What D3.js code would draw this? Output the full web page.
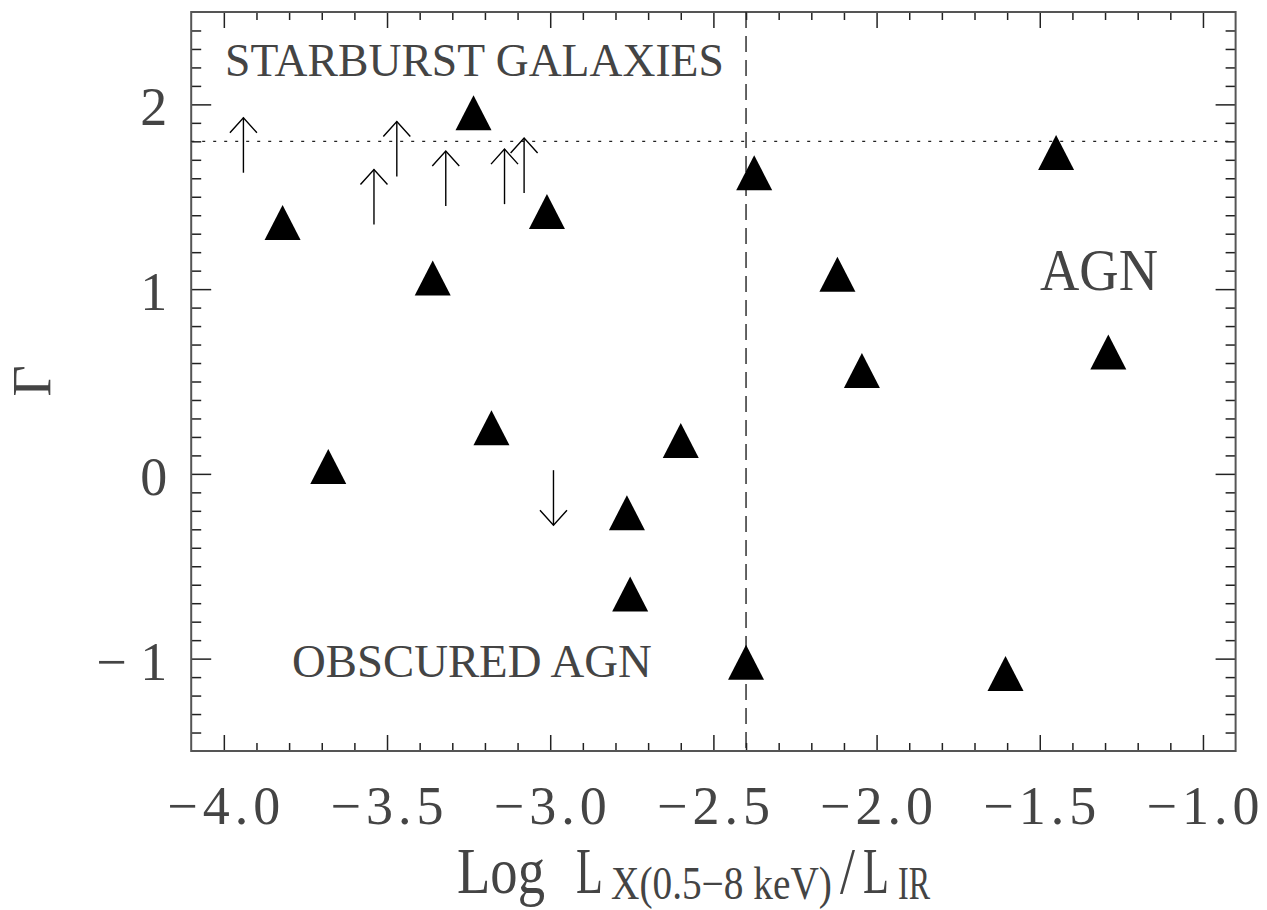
<!DOCTYPE html>
<html>
<head>
<meta charset="utf-8">
<script src="https://cdn.jsdelivr.net/npm/d3@7"></script>
<style>
  html, body { margin: 0; padding: 0; background: #fff; }
  svg { display: block; }
  .lbl { font-family: "Liberation Serif", "DejaVu Serif", serif; fill: #444; }
</style>
</head>
<body>
<svg id="chart" width="1267" height="910"></svg>
<script>
// ---- data ----
const detX = [-3.82, -3.68, -3.36, -3.235, -3.18, -3.01, -2.765, -2.755, -2.60, -2.40, -2.375, -2.12, -2.045, -1.605, -1.45, -1.29];
const detY = [1.36, 0.04, 1.06, 1.955, 0.25, 1.42, -0.21, -0.65, 0.18, -1.02, 1.63, 1.08, 0.56, -1.08, 1.74, 0.66];
const lowLimX = [-3.94, -3.54, -3.47, -3.32, -3.14, -3.08];
const lowLimY = [1.63, 1.35, 1.61, 1.45, 1.46, 1.52];
const upLimX = [-2.99];
const upLimY = [0.02];
const xMajorTicks = [-4.0, -3.5, -3.0, -2.5, -2.0, -1.5, -1.0];
const yMajorTicks = [-1, 0, 1, 2];
const gammaRef = 1.8;      // horizontal dotted line
const xDivide = -2.4;      // vertical dashed line

const svg = d3.select("#chart");
const L = 191.2, R = 1235.6, T = 12, B = 751;
const x = d3.scaleLinear().domain([-4.1, -0.9]).range([L, R]);
const y = d3.scaleLinear().domain([-1.5, 2.5]).range([B, T]);

const xMinor = d3.range(-40, -9).map(d => d / 10).filter(v => !xMajorTicks.some(m => Math.abs(m - v) < 1e-6));
const yMinor = d3.range(-14, 25).map(d => d / 10).filter(v => !yMajorTicks.some(m => Math.abs(m - v) < 1e-6));

function styleAxis(g) {
  g.select(".domain").remove();
  g.selectAll(".tick line").attr("stroke", "#222").attr("stroke-width", 1.5);
  g.selectAll(".tick text").remove();
}

// bottom & top axes
svg.append("g").attr("transform", `translate(0,${B})`)
  .call(d3.axisBottom(x).tickValues(xMajorTicks).tickSize(-16).tickFormat("")).call(styleAxis);
svg.append("g").attr("transform", `translate(0,${B})`)
  .call(d3.axisBottom(x).tickValues(xMinor).tickSize(-8).tickFormat("")).call(styleAxis);
svg.append("g").attr("transform", `translate(0,${T})`)
  .call(d3.axisTop(x).tickValues(xMajorTicks).tickSize(-16).tickFormat("")).call(styleAxis);
svg.append("g").attr("transform", `translate(0,${T})`)
  .call(d3.axisTop(x).tickValues(xMinor).tickSize(-8).tickFormat("")).call(styleAxis);
// left & right axes
svg.append("g").attr("transform", `translate(${L},0)`)
  .call(d3.axisLeft(y).tickValues(yMajorTicks).tickSize(-20).tickFormat("")).call(styleAxis);
svg.append("g").attr("transform", `translate(${L},0)`)
  .call(d3.axisLeft(y).tickValues(yMinor).tickSize(-10).tickFormat("")).call(styleAxis);
svg.append("g").attr("transform", `translate(${R},0)`)
  .call(d3.axisRight(y).tickValues(yMajorTicks).tickSize(-20).tickFormat("")).call(styleAxis);
svg.append("g").attr("transform", `translate(${R},0)`)
  .call(d3.axisRight(y).tickValues(yMinor).tickSize(-10).tickFormat("")).call(styleAxis);

// frame
svg.append("rect").attr("x", L).attr("y", T).attr("width", R - L).attr("height", B - T)
  .attr("fill", "none").attr("stroke", "#555").attr("stroke-width", 2);

// tick labels
const fmtX = d3.format(".1f");
svg.selectAll(".xlab").data(xMajorTicks).join("text")
  .attr("class", "lbl xlab")
  .attr("x", d => x(d)).attr("y", B + 73)
  .attr("text-anchor", "middle").attr("font-size", 54)
  .attr("textLength", 113).attr("lengthAdjust", "spacing")
  .text(d => fmtX(d));
svg.selectAll(".ylab").data(yMajorTicks).join("text")
  .attr("class", "lbl ylab")
  .attr("x", L - 24).attr("y", d => y(d) + 21)
  .attr("text-anchor", "end").attr("font-size", 54)
  .text(d => d < 0 ? "\u2212 " + Math.abs(d) : String(d));

// reference lines
svg.append("line").attr("x1", x(xDivide)).attr("x2", x(xDivide)).attr("y1", T).attr("y2", B)
  .attr("stroke", "#222").attr("stroke-width", 1.4).attr("stroke-dasharray", "16,8");
svg.append("line").attr("x1", L).attr("x2", R).attr("y1", y(gammaRef)).attr("y2", y(gammaRef))
  .attr("stroke", "#222").attr("stroke-width", 1.4).attr("stroke-dasharray", "3,8");

// detections: filled triangles
const det = detX.map((v, i) => ({ x: v, y: detY[i] }));
svg.selectAll(".det").data(det).join("path")
  .attr("class", "det")
  .attr("d", "M0,-17.5L18,17.5L-18,17.5Z")
  .attr("transform", d => `translate(${x(d.x)},${y(d.y)})`)
  .attr("fill", "#000");

// limits: arrows
const arrLen = 55, headW = 13.5, headH = 15;
function arrow(g, dir) {
  g.append("line").attr("x1", 0).attr("y1", 0).attr("x2", 0).attr("y2", dir * arrLen);
  g.append("polyline").attr("fill", "none")
    .attr("points", `${-headW},${dir * (arrLen - headH)} 0,${dir * arrLen} ${headW},${dir * (arrLen - headH)}`);
}
const low = lowLimX.map((v, i) => ({ x: v, y: lowLimY[i] }));
svg.selectAll(".lowlim").data(low).join("g")
  .attr("class", "lowlim")
  .attr("transform", d => `translate(${x(d.x)},${y(d.y)})`)
  .attr("stroke", "#000").attr("stroke-width", 1.4)
  .each(function () { arrow(d3.select(this), -1); });
const up = upLimX.map((v, i) => ({ x: v, y: upLimY[i] }));
svg.selectAll(".uplim").data(up).join("g")
  .attr("class", "uplim")
  .attr("transform", d => `translate(${x(d.x)},${y(d.y)})`)
  .attr("stroke", "#000").attr("stroke-width", 1.4)
  .each(function () { arrow(d3.select(this), 1); });

// text squeezed horizontally (via transform) to a target width
function fitText(tx, ty, size, len, str) {
  const t = svg.append("text").attr("class", "lbl").attr("font-size", size).text(str);
  const natural = t.node().getComputedTextLength();
  const sx = natural > 0 ? len / natural : 1;
  t.attr("transform", `translate(${tx},${ty}) scale(${sx},1)`);
  return t;
}
fitText(225, 76, 46, 499, "STARBURST GALAXIES");
fitText(292, 677, 46, 360, "OBSCURED AGN");
fitText(1040, 290, 60, 118, "AGN");

// axis titles
svg.append("text").attr("class", "lbl")
  .attr("transform", "translate(50,381) rotate(-90)")
  .attr("text-anchor", "middle").attr("font-size", 54)
  .text("\u0393");

fitText(457, 893, 66, 88, "Log");
fitText(576, 893, 66, 27, "L");
fitText(611, 899, 46, 221, "X(0.5\u22128 keV)");
fitText(840, 893, 66, 15, "/");
fitText(863, 893, 66, 26, "L");
fitText(898, 899, 46, 32, "IR");
</script>
</body>
</html>
